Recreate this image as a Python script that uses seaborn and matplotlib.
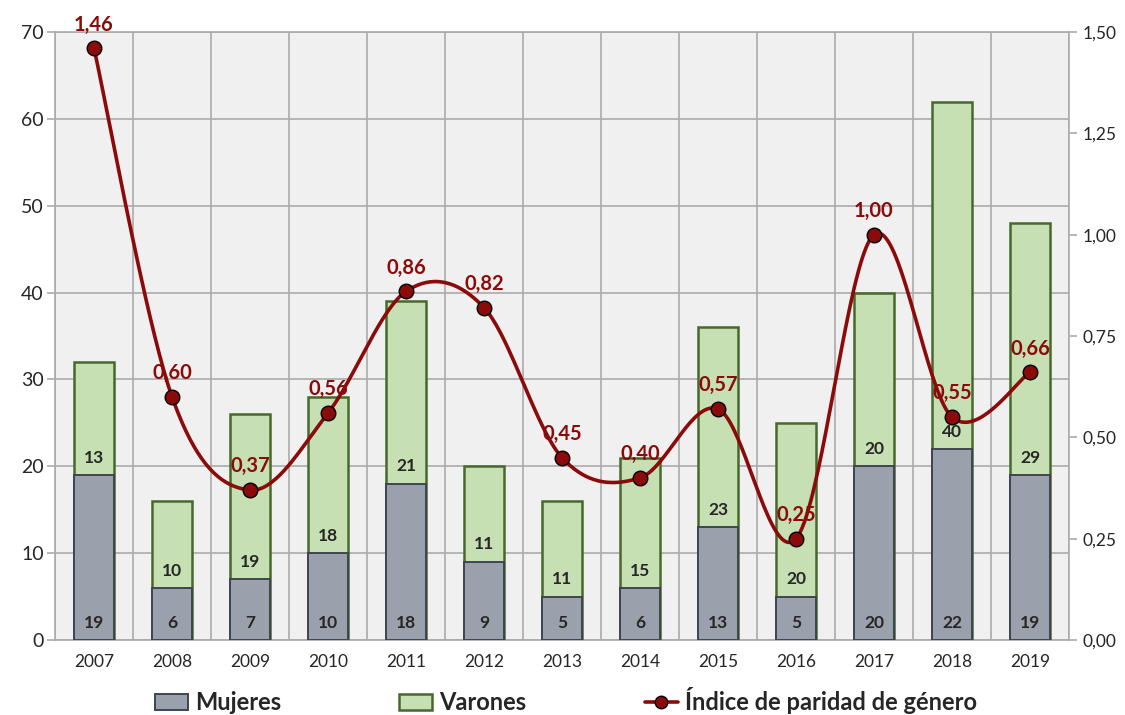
import numpy as np
import pandas as pd
import matplotlib
matplotlib.use("Agg")
import matplotlib.pyplot as plt
import seaborn as sns
from matplotlib.patches import Patch
from matplotlib.lines import Line2D

# Données
annees = ["2007", "2008", "2009", "2010", "2011", "2012", "2013",
          "2014", "2015", "2016", "2017", "2018", "2019"]
mujeres = [19, 6, 7, 10, 18, 9, 5, 6, 13, 5, 20, 22, 19]
varones = [13, 10, 19, 18, 21, 11, 11, 15, 23, 20, 20, 40, 29]
indice = [1.46, 0.60, 0.37, 0.56, 0.86, 0.82, 0.45, 0.40, 0.57, 0.25, 1.00, 0.55, 0.66]

df = pd.DataFrame({"anio": annees, "Mujeres": mujeres, "Varones": varones, "indice": indice})
df["total"] = df["Mujeres"] + df["Varones"]

sns.set_style("white")
plt.rcParams["font.family"] = ["Lato", "DejaVu Sans"]

C_MUJ = "#9AA1AD"
C_MUJ_E = "#3E4550"
C_VAR = "#C6E0B4"
C_VAR_E = "#47692C"
C_LINE = "#8B0A0A"
C_GRID = "#ABABAB"

fig = plt.figure(figsize=(11.25, 7.15), dpi=100)
ax = fig.add_axes([0.0489, 0.1049, 0.9013, 0.8503])
ax.set_facecolor("#F0F0F0")

# Barres empilées : total (vert) puis femmes (gris) par-dessus
sns.barplot(data=df, x="anio", y="total", color=C_VAR, edgecolor=C_VAR_E,
            linewidth=1.8, width=0.51, saturation=1, ax=ax, zorder=3)
sns.barplot(data=df, x="anio", y="Mujeres", color=C_MUJ, edgecolor=C_MUJ_E,
            linewidth=1.4, width=0.51, saturation=1, ax=ax, zorder=4)

ax.set_xlim(-0.5, 12.5)
ax.set_ylim(0, 70)
ax.set_yticks(range(0, 71, 10))
ax.set_xlabel("")
ax.set_ylabel("")

# Grille : lignes verticales entre catégories
n = len(annees)
ax.set_xticks(np.arange(-0.5, n, 1.0))
ax.set_xticklabels([])
ax.set_xticks(np.arange(n), minor=True)
ax.set_xticklabels(annees, minor=True)
ax.tick_params(axis="x", which="major", length=7, color=C_GRID, width=1.2)
ax.tick_params(axis="x", which="minor", length=0, labelsize=12.5, pad=10)
ax.tick_params(axis="y", length=6, color=C_GRID, width=1.2, labelsize=14, pad=2)
ax.grid(True, which="major", color=C_GRID, linewidth=1.2, zorder=0)
ax.set_axisbelow(True)
for s in ax.spines.values():
    s.set_color(C_GRID)
    s.set_linewidth(1.2)

# Étiquettes des barres
for i, row in df.iterrows():
    ax.text(i, 2, str(row["Mujeres"]), ha="center", va="center",
            fontsize=12.5, fontweight="bold", zorder=6)
    ax.text(i, row["Mujeres"] + 2, str(row["Varones"]), ha="center", va="center",
            fontsize=12.5, fontweight="bold", zorder=6)

# Axe secondaire : indice de parité
ax2 = ax.twinx()
ax2.set_ylim(0, 1.5)
ax2.set_yticks(np.arange(0, 1.51, 0.25))
ax2.set_yticklabels([f"{v:.2f}".replace(".", ",") for v in np.arange(0, 1.51, 0.25)])
ax2.tick_params(axis="y", length=6, color=C_GRID, width=1.2, labelsize=12.5, pad=4)
for s in ax2.spines.values():
    s.set_visible(False)

# Courbe lissée (Catmull-Rom, comme Excel)
x = np.arange(n, dtype=float)
y = np.array(indice)
xs, ys = [], []
t = np.linspace(0, 1, 40)
for i in range(n - 1):
    p0 = np.array([x[max(i - 1, 0)], y[max(i - 1, 0)]])
    p1 = np.array([x[i], y[i]])
    p2 = np.array([x[i + 1], y[i + 1]])
    p3 = np.array([x[min(i + 2, n - 1)], y[min(i + 2, n - 1)]])
    c1 = p1 + (p2 - p0) / 6
    c2 = p2 - (p3 - p1) / 6
    b = (np.outer((1 - t) ** 3, p1) + np.outer(3 * (1 - t) ** 2 * t, c1)
         + np.outer(3 * (1 - t) * t ** 2, c2) + np.outer(t ** 3, p2))
    xs.extend(b[:, 0])
    ys.extend(b[:, 1])
ax2.plot(xs, ys, color=C_LINE, linewidth=2.6, zorder=5)
sns.scatterplot(x=x, y=y, ax=ax2, s=110, color=C_LINE, edgecolor="black",
                linewidth=1.0, zorder=6, legend=False)
for xi, yi in zip(x, y):
    ax2.annotate(f"{yi:.2f}".replace(".", ","), (xi, yi), xytext=(0, 17),
                 textcoords="offset points", ha="center", va="center",
                 color=C_LINE, fontsize=14.5, fontweight="bold", zorder=7,
                 annotation_clip=False)

# Légende
handles = [
    Patch(facecolor=C_MUJ, edgecolor=C_MUJ_E, linewidth=1.4),
    Patch(facecolor=C_VAR, edgecolor=C_VAR_E, linewidth=1.8),
    Line2D([0], [0], color=C_LINE, linewidth=2.6, marker="o", markersize=9,
           markerfacecolor=C_LINE, markeredgecolor="black"),
]
labels = ["Mujeres", "Varones", "Índice de paridad de género"]
fig.legend(handles, labels, loc="center", bbox_to_anchor=(0.503, 0.02), ncol=3,
           frameon=False, prop={"size": 17, "weight": "bold"},
           columnspacing=5.0, handlelength=1.4, handletextpad=0.3)

fig.savefig("out.png", dpi=100)
